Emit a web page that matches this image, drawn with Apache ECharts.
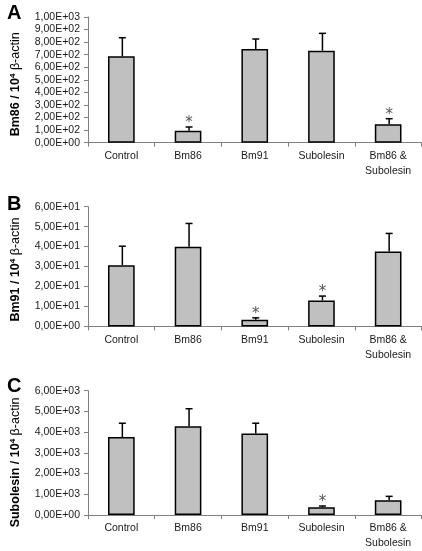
<!DOCTYPE html>
<html>
<head>
<meta charset="utf-8">
<script src="https://cdn.jsdelivr.net/npm/echarts@6/dist/echarts.min.js"></script>
<style>
html,body{margin:0;padding:0;background:#fff;}
#c{width:422px;height:551px;}
</style>
</head>
<body>
<div id="c"></div>
<script>
const categories = ['Control', 'Bm86', 'Bm91', 'Subolesin', 'Bm86 &\nSubolesin'];

const meanA = [687, 95, 745, 732, 146];
const sdA = [148, 30, 80, 138, 45];
const sigA = [0, 1, 0, 0, 1];
const ticksA = ['0,00E+00','1,00E+02','2,00E+02','3,00E+02','4,00E+02','5,00E+02','6,00E+02','7,00E+02','8,00E+02','9,00E+02','1,00E+03'];

const meanB = [30.7, 39.9, 3.3, 13.0, 37.6];
const sdB = [9.5, 11.7, 1.0, 2.2, 9.0];
const sigB = [0, 0, 1, 1, 0];
const ticksB = ['0,00E+00','1,00E+01','2,00E+01','3,00E+01','4,00E+01','5,00E+01','6,00E+01'];

const meanC = [3760, 4290, 3930, 373, 714];
const sdC = [670, 840, 500, 60, 186];
const sigC = [0, 0, 0, 1, 0];
const ticksC = ['0,00E+00','1,00E+03','2,00E+03','3,00E+03','4,00E+03','5,00E+03','6,00E+03'];

const genes = ['Bm86', 'Bm91', 'Subolesin'];
const letters = ['A', 'B', 'C'];

const FONT = '"Liberation Sans", Arial, sans-serif';
const AXIS_COLOR = '#808080';

const panels = [
  {mean: meanA, sd: sdA, sig: sigA, ticks: ticksA, max: 1000, interval: 100, top: 17, height: 125.7, letterTop: 3, titleShift: 4.5},
  {mean: meanB, sd: sdB, sig: sigB, ticks: ticksB, max: 60, interval: 10, top: 206.7, height: 119.7, letterTop: 194, titleShift: 3},
  {mean: meanC, sd: sdC, sig: sigC, ticks: ticksC, max: 6000, interval: 1000, top: 390.7, height: 128.6, letterTop: 376, titleShift: 7.5}
];

const grid = [], xAxis = [], yAxis = [], series = [], graphic = [];
panels.forEach((p, i) => {
  grid.push({left: 88, width: 333.5, top: p.top, height: p.height});
  xAxis.push({
    type: 'category', gridIndex: i, data: categories, boundaryGap: true,
    axisLine: {lineStyle: {color: AXIS_COLOR, width: 1}},
    axisTick: {show: true, length: 4, lineStyle: {color: AXIS_COLOR}},
    axisLabel: {color: '#1a1a1a', fontFamily: FONT, fontSize: 10.5, lineHeight: 15, margin: 6, interval: 0}
  });
  yAxis.push({
    type: 'value', gridIndex: i, min: 0, max: p.max, interval: p.interval,
    splitLine: {show: false},
    axisLine: {show: true, lineStyle: {color: AXIS_COLOR, width: 1}},
    axisTick: {show: true, length: 4, lineStyle: {color: AXIS_COLOR}},
    axisLabel: {color: '#1a1a1a', fontFamily: FONT, fontSize: 10.5, margin: 8,
      formatter: (v) => p.ticks[Math.round(v / p.interval)]}
  });
  series.push({
    type: 'bar', xAxisIndex: i, yAxisIndex: i, data: p.mean, barWidth: '40%',
    itemStyle: {color: '#c0c0c0', borderColor: '#000', borderWidth: 1.5},
    silent: true, animation: false
  });
  series.push({
    type: 'custom', xAxisIndex: i, yAxisIndex: i,
    data: p.mean.map((m, k) => [k, m, m + p.sd[k], p.sig[k]]),
    renderItem: (params, api) => {
      const base = api.coord([api.value(0), api.value(1)]);
      const top = api.coord([api.value(0), api.value(2)]);
      const x = base[0] + 1;
      const children = [
        {type: 'line', shape: {x1: x, y1: base[1], x2: x, y2: top[1]}, style: {stroke: '#000', lineWidth: 1.5}},
        {type: 'line', shape: {x1: x - 3.5, y1: top[1], x2: x + 3.5, y2: top[1]}, style: {stroke: '#000', lineWidth: 1.5}}
      ];
      if (api.value(3)) {
        children.push({type: 'text', style: {text: '*', x: x, y: top[1] - 4, align: 'center', verticalAlign: 'middle',
          font: '15px "DejaVu Sans", sans-serif', fill: '#555'}});
      }
      return {type: 'group', children: children};
    },
    z: 5, silent: true, animation: false
  });
  graphic.push({type: 'text', left: 7, top: p.letterTop, style: {text: letters[i], font: 'bold 20px ' + FONT, fill: '#000'}});
  graphic.push({
    type: 'text', x: 15.5, y: p.top + p.height / 2 + p.titleShift, rotation: Math.PI / 2,
    style: {
      text: '{b|' + genes[i] + ' / 10}{s|4}{r| β-actin}',
      align: 'center', verticalAlign: 'middle',
      rich: {
        b: {fontFamily: FONT, fontWeight: 'bold', fontSize: 12.5, fill: '#000'},
        s: {fontFamily: FONT, fontWeight: 'bold', fontSize: 8, fill: '#000', verticalAlign: 'top', padding: [0, 0, 6, 0]},
        r: {fontFamily: FONT, fontWeight: 'normal', fontSize: 12.5, fill: '#000'}
      }
    }
  });
});

const chart = echarts.init(document.getElementById('c'), null, {renderer: 'canvas'});
chart.setOption({animation: false, grid, xAxis, yAxis, series, graphic});
</script>
</body>
</html>
